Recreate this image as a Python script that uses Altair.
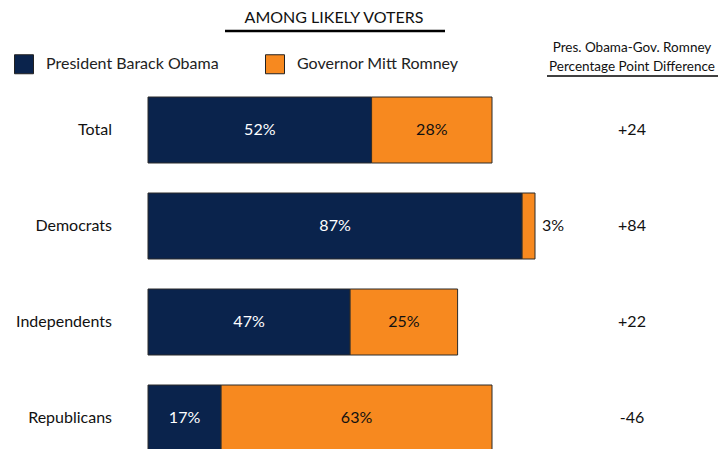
import altair as alt
import pandas as pd

groups = ["Total", "Democrats", "Independents", "Republicans"]
obama = [52, 87, 47, 17]
romney = [28, 3, 25, 63]
diff = [24, 84, 22, -46]
series_names = ["President Barack Obama", "Governor Mitt Romney"]
colors = ["#0A234C", "#F7891F"]

FONT = "Lato"

rows = []
for g, o, r in zip(groups, obama, romney):
    rows.append({"group": g, "series": series_names[0], "order": 0, "value": o,
                 "start": 0, "end": o, "label": f"{o}%"})
    rows.append({"group": g, "series": series_names[1], "order": 1, "value": r,
                 "start": o, "end": o + r, "label": f"{r}%"})
df = pd.DataFrame(rows)
df["mid"] = (df["start"] + df["end"]) / 2
df["inside"] = df["value"] >= 8

diff_df = pd.DataFrame({"group": groups,
                        "txt": [f"+{d}" if d > 0 else f"{d}" for d in diff]})
grp_df = pd.DataFrame({"group": groups})
one = pd.DataFrame({"k": [0]})

xs = alt.Scale(domain=[0, 100], range=[140, 570])
ys = alt.Scale(domain=groups, range=[74, 458], paddingInner=0.3125, paddingOuter=0.15625)

bars = alt.Chart(df).mark_bar(stroke="#2a2a2a", strokeWidth=1).encode(
    x=alt.X("start:Q", scale=xs, axis=None),
    x2="end:Q",
    y=alt.Y("group:N", scale=ys, axis=None),
    fill=alt.Fill("series:N", scale=alt.Scale(domain=series_names, range=colors),
                  legend=alt.Legend(title=None, orient="none", legendX=6, legendY=46,
                                    direction="horizontal", symbolType="square",
                                    symbolSize=361, symbolStrokeColor="#222",
                                    symbolStrokeWidth=1, labelFont=FONT, labelFontSize=16,
                                    labelColor="#222", labelOffset=12, columnPadding=44,
                                    padding=0, labelLimit=300)),
    order="order:Q",
)

inside_labels = alt.Chart(df).transform_filter("datum.inside").mark_text(
    font=FONT, fontSize=16, baseline="middle"
).encode(
    x=alt.X("mid:Q", scale=xs),
    y=alt.Y("group:N", scale=ys),
    text="label:N",
    color=alt.Color("series:N", scale=alt.Scale(domain=series_names, range=["#ffffff", "#111111"]),
                    legend=None),
)

outside_labels = alt.Chart(df).transform_filter("!datum.inside").mark_text(
    font=FONT, fontSize=16, baseline="middle", align="left", dx=7, color="#111"
).encode(
    x=alt.X("end:Q", scale=xs),
    y=alt.Y("group:N", scale=ys),
    text="label:N",
)

cat_labels = alt.Chart(grp_df).mark_text(
    font=FONT, fontSize=16, baseline="middle", align="right", color="#111"
).encode(
    x=alt.value(104),
    y=alt.Y("group:N", scale=ys),
    text="group:N",
)

diff_labels = alt.Chart(diff_df).mark_text(
    font=FONT, fontSize=16, baseline="middle", align="center", color="#111"
).encode(
    x=alt.value(624),
    y=alt.Y("group:N", scale=ys),
    text="txt:N",
)

title = alt.Chart(one).mark_text(
    text="AMONG LIKELY VOTERS", font=FONT, fontSize=16, baseline="middle", align="center", color="#111"
).encode(x=alt.value(326), y=alt.value(9.5))
title_rule = alt.Chart(one).mark_rule(color="#000", strokeWidth=2.5).encode(
    x=alt.value(217), x2=alt.value(437), y=alt.value(23))

hdr1 = alt.Chart(one).mark_text(
    text="Pres. Obama-Gov. Romney", font=FONT, fontSize=13.5, baseline="middle", align="center", color="#111"
).encode(x=alt.value(624), y=alt.value(40))
hdr2 = alt.Chart(one).mark_text(
    text="Percentage Point Difference", font=FONT, fontSize=13.5, baseline="middle", align="center", color="#111"
).encode(x=alt.value(624), y=alt.value(59))
hdr_rule = alt.Chart(one).mark_rule(color="#000", strokeWidth=1.5).encode(
    x=alt.value(539), x2=alt.value(710), y=alt.value(68))

chart = alt.layer(
    bars, inside_labels, outside_labels, cat_labels, diff_labels,
    title, title_rule, hdr1, hdr2, hdr_rule
).resolve_scale(color="independent").properties(
    width=712, height=441, autosize=alt.AutoSizeParams(type="none"), padding=0
).configure_view(stroke=None)

chart.save("out.html", embed_options={"renderer": "svg", "actions": False})
